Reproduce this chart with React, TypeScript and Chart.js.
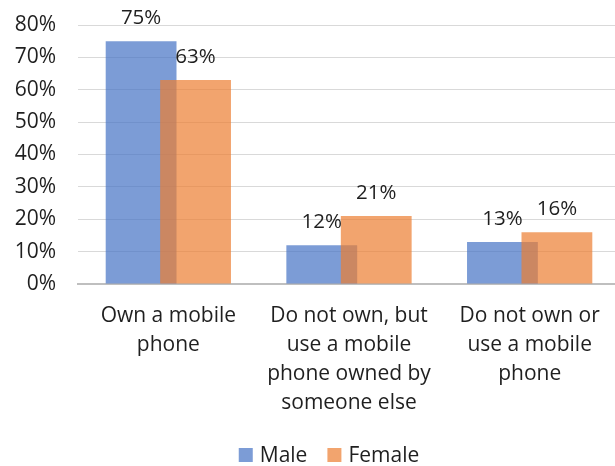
import React, { useEffect, useRef } from "react";
import { Chart, registerables } from "chart.js";

Chart.register(...registerables);

const categories: string[][] = [
  ["Own a mobile", "phone"],
  ["Do not own, but", "use a mobile", "phone owned by", "someone else"],
  ["Do not own or", "use a mobile", "phone"],
];
const maleValues = [75, 12, 13];
const femaleValues = [63, 21, 16];
const seriesNames = ["Male", "Female"];
const seriesColors = ["rgba(68,114,196,0.7)", "rgba(237,125,49,0.7)"];

const FONT = "'Open Sans', 'Noto Sans', sans-serif";
const TEXT = "#1f1f1f";
const FS = 21;

// Draw Female (2nd dataset) on top of Male, then value labels and a legend.
const overlapAndLabels = {
  id: "overlapAndLabels",
  beforeDatasetDraw(chart: any, args: any) {
    if (args.index === 1) return false;
  },
  afterDatasetsDraw(chart: any) {
    const ctx = chart.ctx;
    const meta1 = chart.getDatasetMeta(1);
    ctx.save();
    meta1.controller.draw();
    ctx.restore();
    ctx.save();
    ctx.font = `${FS - 0.5}px ${FONT}`;
    ctx.fillStyle = TEXT;
    ctx.textAlign = "center";
    ctx.textBaseline = "alphabetic";
    chart.data.datasets.forEach((ds: any, di: number) => {
      const meta = chart.getDatasetMeta(di);
      meta.data.forEach((el: any, i: number) => {
        ctx.fillText(`${ds.data[i]}%`, el.x, el.y - 17);
      });
    });
    ctx.restore();
  },
  afterDraw(chart: any) {
    const ctx = chart.ctx;
    ctx.save();
    ctx.font = `${FS}px ${FONT}`;
    const box = 14;
    const gap = 7;
    const spacing = 20;
    const widths = seriesNames.map((n) => ctx.measureText(n).width);
    const total = widths.reduce((a, w) => a + box + gap + w, 0) + spacing * (seriesNames.length - 1);
    let x = chart.width / 2 + 19 - total / 2;
    const cy = 455;
    ctx.textBaseline = "middle";
    ctx.textAlign = "left";
    seriesNames.forEach((n, i) => {
      ctx.fillStyle = seriesColors[i];
      ctx.fillRect(x, cy - box / 2, box, box);
      x += box + gap;
      ctx.fillStyle = TEXT;
      ctx.fillText(n, x, cy + 1);
      x += widths[i] + spacing;
    });
    ctx.restore();
  },
};

export default function App() {
  const ref = useRef<HTMLCanvasElement>(null);
  useEffect(() => {
    document.body.style.margin = "0";
    const chart = new Chart(ref.current!, {
      type: "bar",
      data: {
        labels: categories as any,
        datasets: seriesNames.map((name, i) => ({
          label: name,
          data: i === 0 ? maleValues : femaleValues,
          backgroundColor: seriesColors[i],
          categoryPercentage: 0.603,
          barPercentage: 1.3,
        })),
      },
      options: {
        animation: false,
        responsive: false,
        maintainAspectRatio: false,
        layout: { padding: { top: 25, right: 0, left: 0, bottom: 42 } },
        plugins: {
          legend: { display: false },
          tooltip: { enabled: false },
        },
        scales: {
          x: {
            grid: { display: false },
            border: { color: "#BFBFBF", width: 2 },
            ticks: {
              font: { family: FONT, size: FS, lineHeight: 1.38 },
              color: TEXT,
              padding: 10,
              maxRotation: 0,
              autoSkip: false,
            },
            afterFit: (s: any) => {
              s.height = 140;
            },
          },
          y: {
            min: 0,
            max: 80,
            border: { display: false },
            grid: { color: "#D9D9D9", drawTicks: false },
            ticks: {
              stepSize: 10,
              font: { family: FONT, size: FS },
              color: TEXT,
              padding: 22,
              callback: (v: any) => `${v}%`,
            },
            afterFit: (s: any) => {
              s.width = 78;
              s.paddingTop = 0;
              s.paddingBottom = 0;
            },
          },
        },
      },
      plugins: [overlapAndLabels],
    });
    return () => chart.destroy();
  }, []);
  return (
    <div style={{ position: "fixed", left: 0, top: 0, width: 615, height: 466, overflow: "hidden", background: "#fff" }}>
      <canvas ref={ref} width={620} height={466} style={{ display: "block" }} />
    </div>
  );
}
